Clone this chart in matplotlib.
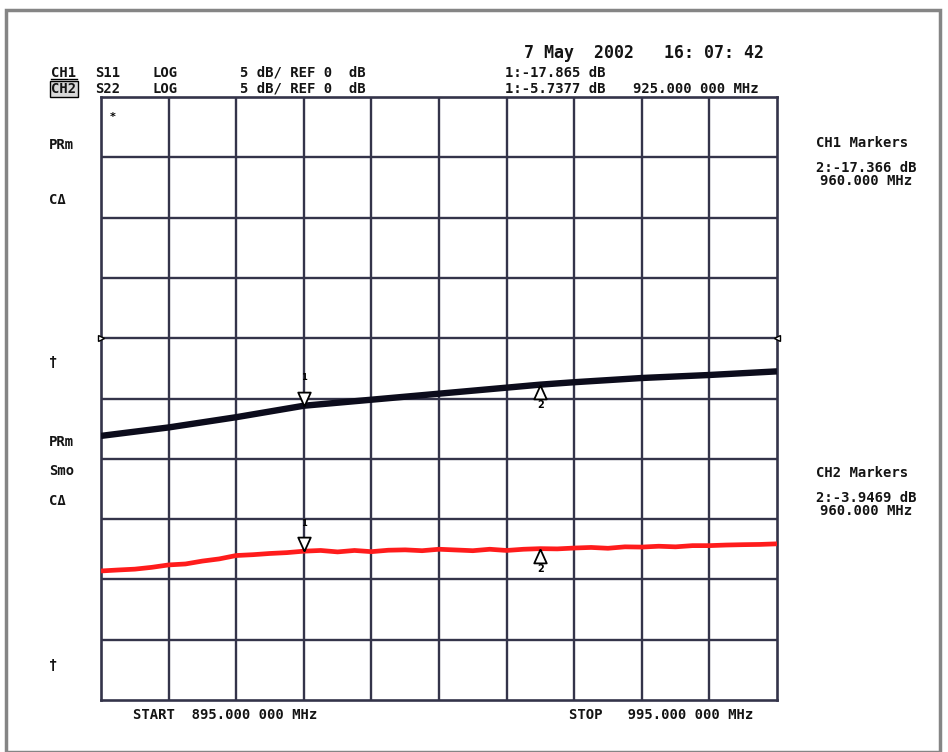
import matplotlib.pyplot as plt
from matplotlib.patches import Rectangle

# sweep and traces
freq_ch1 = [895, 905, 915, 925, 935, 945, 955, 960, 965, 975, 985, 995]
s11_db = [-8.1, -7.4, -6.55, -5.6, -5.1, -4.6, -4.1, -3.85, -3.65, -3.3, -3.05, -2.75]

freq_ch2 = [895, 897.5, 900, 902.5, 905, 907.5, 910, 912.5, 915, 917.5,
            920, 922.5, 925, 927.5, 930, 932.5, 935, 937.5, 940, 942.5,
            945, 947.5, 950, 952.5, 955, 957.5, 960, 962.5, 965, 967.5,
            970, 972.5, 975, 977.5, 980, 982.5, 985, 987.5, 990, 992.5, 995]
s22_db = [-19.3, -19.22, -19.15, -19.0, -18.8, -18.72, -18.48, -18.3, -18.02, -17.95,
          -17.85, -17.78, -17.66, -17.6, -17.72, -17.6, -17.7, -17.58, -17.55, -17.62,
          -17.5, -17.56, -17.62, -17.5, -17.6, -17.5, -17.45, -17.47, -17.4, -17.35,
          -17.42, -17.3, -17.32, -17.25, -17.3, -17.2, -17.2, -17.15, -17.12, -17.1, -17.05]

marker_freqs = [925, 960]
start_mhz, stop_mhz = 895, 995
ref_db, db_per_div = 0, 5

W, H = 948, 752


def px(x, y):
    return x / W, 1 - y / H


fig = plt.figure(figsize=(W / 100, H / 100), dpi=100)
fig.patches.append(Rectangle(px(6, 752), (940 - 6) / W, (752 - 10) / H, transform=fig.transFigure,
                             fill=False, edgecolor='#858585', lw=2.5))

ax = fig.add_axes([101 / W, 1 - 700 / H, (777 - 101) / W, (700 - 97) / H])
ax.set_xlim(start_mhz, stop_mhz)
ax.set_ylim(ref_db - 6 * db_per_div, ref_db + 4 * db_per_div)
grid_c = '#34344a'
for f in range(start_mhz + 10, stop_mhz, 10):
    ax.axvline(f, color=grid_c, lw=1.7, zorder=1)
for d in range(ref_db - 25, ref_db + 20, 5):
    ax.axhline(d, color=grid_c, lw=1.7, zorder=1)
for s in ax.spines.values():
    s.set_color(grid_c)
    s.set_linewidth(1.9)
ax.set_xticks([])
ax.set_yticks([])

ax.plot(freq_ch1, s11_db, color='#0c0c1c', lw=4.6, solid_capstyle='butt', zorder=3)
ax.plot(freq_ch2, s22_db, color='#ff1c1c', lw=3.4, solid_capstyle='butt', zorder=3)

# markers: 1 = open triangle above trace, 2 = open triangle below trace
down_tri = [(0, 0), (-0.45, 1), (0.45, 1), (0, 0)]
up_tri = [(0, 0), (-0.45, -1), (0.45, -1), (0, 0)]
for fr, dbs in [(freq_ch1, s11_db), (freq_ch2, s22_db)]:
    lookup = dict(zip(fr, dbs))
    m1, m2 = lookup[marker_freqs[0]], lookup[marker_freqs[1]]
    ax.plot(marker_freqs[0], m1, marker=down_tri, ms=20, mfc='white', mec='black', mew=1.3, zorder=4)
    ax.annotate('1', (marker_freqs[0], m1), xytext=(0, 17), textcoords='offset points',
                ha='center', va='bottom', fontsize=6, fontweight='bold')
    ax.plot(marker_freqs[1], m2, marker=up_tri, ms=20, mfc='white', mec='black', mew=1.3, zorder=4)
    ax.annotate('2', (marker_freqs[1], m2), xytext=(0, -11), textcoords='offset points',
                ha='center', va='top', fontsize=7, fontweight='bold')

# reference position pointers
ax.plot(start_mhz, ref_db, marker='>', ms=5, mfc='white', mec='black', clip_on=False, zorder=5)
ax.plot(stop_mhz, ref_db, marker='<', ms=5, mfc='white', mec='black', clip_on=False, zorder=5)
ax.text(0.013, 0.975, '*', transform=ax.transAxes, fontsize=8, fontweight='bold', va='top')

fk = dict(fontsize=10, fontweight='bold', family='DejaVu Sans Mono', color='#141414')
fig.text(*px(524, 53), '7 May  2002   16: 07: 42', fontsize=12, fontweight='bold',
         family='DejaVu Sans Mono', va='center', color='#141414')

fig.text(*px(51, 73), 'CH1', va='center', **fk)
fig.text(*px(51, 89), 'CH2', va='center',
         bbox=dict(boxstyle='square,pad=0.1', fc='#d8d8d8', ec='black', lw=1), **fk)
fig.lines.append(plt.Line2D([51 / W, 77 / W], [1 - 79 / H] * 2, transform=fig.transFigure,
                            color='black', lw=1))
fig.text(*px(95, 73), 'S11', va='center', **fk)
fig.text(*px(95, 89), 'S22', va='center', **fk)
fig.text(*px(152, 73), 'LOG', va='center', **fk)
fig.text(*px(152, 89), 'LOG', va='center', **fk)
fig.text(*px(240, 73), '5 dB/ REF 0  dB', va='center', **fk)
fig.text(*px(240, 89), '5 dB/ REF 0  dB', va='center', **fk)
fig.text(*px(505, 73), '1:-17.865 dB', va='center', **fk)
fig.text(*px(505, 89), '1:-5.7377 dB', va='center', **fk)
fig.text(*px(633, 89), '925.000 000 MHz', va='center', **fk)

fig.text(*px(816, 143), 'CH1 Markers', va='center', **fk)
fig.text(*px(816, 168), '2:-17.366 dB', va='center', **fk)
fig.text(*px(820, 181), '960.000 MHz', va='center', **fk)
fig.text(*px(816, 473), 'CH2 Markers', va='center', **fk)
fig.text(*px(816, 498), '2:-3.9469 dB', va='center', **fk)
fig.text(*px(820, 511), '960.000 MHz', va='center', **fk)

for lab, yy in [('PRm', 145), ('C\u0394', 200), ('\u2020', 362), ('PRm', 442),
                ('Smo', 471), ('C\u0394', 501), ('\u2020', 665)]:
    fig.text(*px(49, yy), lab, va='center', **fk)

fig.text(*px(133, 715), 'START  895.000 000 MHz', va='center', **fk)
fig.text(*px(569, 715), 'STOP   995.000 000 MHz', va='center', **fk)

fig.savefig('out.png', dpi=100)
